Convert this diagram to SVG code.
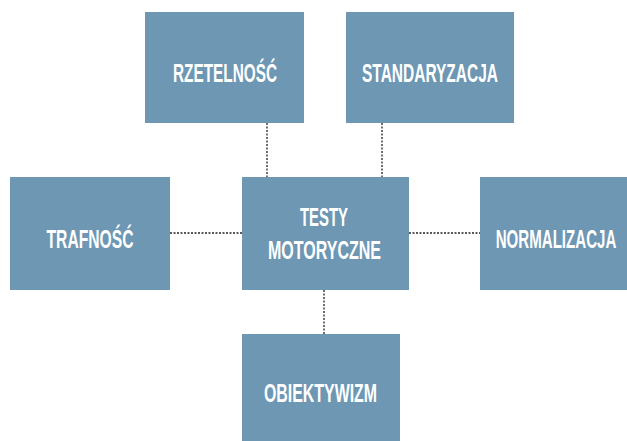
<svg xmlns="http://www.w3.org/2000/svg" width="627" height="441" viewBox="0 0 627 441">
<style>
.box{fill:#6d97b3}
.t{fill:#ffffff;font-family:"Liberation Sans Narrow","Liberation Sans",Arial,sans-serif;font-weight:bold;font-size:26px;text-anchor:middle}
.c{stroke:#222222;stroke-width:1.3;stroke-dasharray:2 1.5;fill:none}
</style>
<rect width="627" height="441" fill="#ffffff"/>
<g id="connectors">
<line class="c" x1="267" y1="123" x2="267" y2="177"/>
<line class="c" x1="382" y1="123" x2="382" y2="177"/>
<line class="c" x1="170" y1="233" x2="242" y2="233"/>
<line class="c" x1="409" y1="233" x2="480" y2="233"/>
<line class="c" x1="324" y1="290" x2="324" y2="334"/>
</g>
<g id="rzetelnosc">
<rect class="box" x="145" y="12" width="159" height="111"/>
<text class="t" x="225" y="82" textLength="104" lengthAdjust="spacingAndGlyphs">RZETELNOŚĆ</text>
</g>
<g id="standaryzacja">
<rect class="box" x="346" y="12" width="168" height="111"/>
<text class="t" x="430" y="82" textLength="136" lengthAdjust="spacingAndGlyphs">STANDARYZACJA</text>
</g>
<g id="trafnosc">
<rect class="box" x="10" y="177" width="160" height="113"/>
<text class="t" x="90" y="248" textLength="87" lengthAdjust="spacingAndGlyphs">TRAFNOŚĆ</text>
</g>
<g id="testy">
<rect class="box" x="242" y="177" width="167" height="113"/>
<text class="t" x="324" y="226" textLength="48" lengthAdjust="spacingAndGlyphs">TESTY</text>
<text class="t" x="324.5" y="259" textLength="113" lengthAdjust="spacingAndGlyphs">MOTORYCZNE</text>
</g>
<g id="normalizacja">
<rect class="box" x="480" y="177" width="147" height="113"/>
<text class="t" transform="translate(556 248) scale(0.58 1)" x="0" y="0">NORMALIZACJA</text>
</g>
<g id="obiektywizm">
<rect class="box" x="242" y="334" width="158" height="107"/>
<text class="t" x="320.5" y="402" textLength="113" lengthAdjust="spacingAndGlyphs">OBIEKTYWIZM</text>
</g>
</svg>
